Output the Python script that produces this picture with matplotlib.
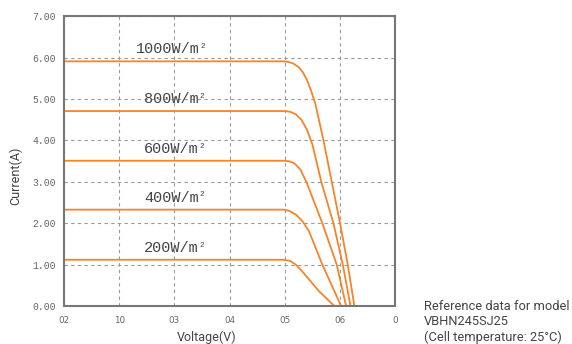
import matplotlib
matplotlib.use('Agg')
import matplotlib.pyplot as plt

# I-V curves (voltage V, current A)
irradiance_labels = ['1000W/m', '800W/m', '600W/m', '400W/m', '200W/m']

v_1000 = [0, 39.5, 40.5, 41.5, 42.5, 43.3, 44.0, 44.7, 45.5, 47.0, 48.5, 50.0, 51.4, 52.6]
i_1000 = [5.91, 5.91, 5.90, 5.86, 5.77, 5.64, 5.46, 5.22, 4.90, 4.00, 3.00, 2.00, 1.00, 0.00]

v_800 = [0, 40.0, 41.0, 42.0, 43.0, 44.0, 45.0, 46.6, 48.8, 50.5, 51.9]
i_800 = [4.71, 4.71, 4.69, 4.63, 4.50, 4.26, 3.90, 3.00, 2.00, 1.00, 0.00]

v_600 = [0, 40.0, 41.0, 41.8, 42.8, 43.9, 46.8, 49.4, 51.1]
i_600 = [3.51, 3.51, 3.49, 3.44, 3.30, 3.00, 2.00, 1.00, 0.00]

v_400 = [0, 39.8, 40.8, 42.0, 43.2, 44.4, 46.8, 50.2]
i_400 = [2.33, 2.33, 2.30, 2.21, 2.05, 1.80, 1.00, 0.00]

v_200 = [0, 39.8, 41.0, 42.0, 43.2, 46.2, 49.0]
i_200 = [1.12, 1.12, 1.09, 1.00, 0.83, 0.36, 0.00]

x_ticks = [0, 10, 20, 30, 40, 50, 60]
x_tick_labels = ['02', '10', '03', '04', '05', '06', '0']
y_ticks = [0, 1, 2, 3, 4, 5, 6, 7]
y_tick_labels = ['0.00', '1.00', '2.00', '3.00', '4.00', '5.00', '6.00', '7.00']

label_x = [13.1, 14.5, 14.5, 14.5, 14.5]
label_y = [6.10, 4.90, 3.70, 2.52, 1.31]

curves = [(v_1000, i_1000), (v_800, i_800), (v_600, i_600), (v_400, i_400), (v_200, i_200)]

fig = plt.figure(figsize=(5.72, 3.44), dpi=100)
ax = fig.add_axes([0.112, 0.11, 0.579, 0.843])

line_color = '#f5842a'
for v, i in curves:
    ax.plot(v, i, color=line_color, linewidth=1.3, solid_joinstyle='round')

for txt, x, y in zip(irradiance_labels, label_x, label_y):
    t = ax.text(x, y, txt, family='Liberation Mono', fontsize=11, color='#444444',
                ha='left', va='baseline')
    # small raised "2" after W/m
    ax.annotate('2', xy=(1.0, 0.95), xycoords=t, xytext=(0.5, 0), textcoords='offset points',
                family='Liberation Mono', fontsize=5.5, color='#444444', ha='left', va='top')

ax.set_xlim(0, 60)
ax.set_ylim(0, 7)
ax.set_xticks(x_ticks)
ax.set_xticklabels(x_tick_labels, family='DejaVu Sans', fontsize=6.3, color='#666666')
ax.set_yticks(y_ticks)
ax.set_yticklabels(y_tick_labels, family='Liberation Mono', fontsize=7, color='#666666')
ax.tick_params(length=0)
ax.tick_params(axis='y', pad=6)
ax.tick_params(axis='x', pad=7)

ax.grid(True, color='#9a9a9a', linestyle=(0, (3, 3)), linewidth=0.8)
for s in ax.spines.values():
    s.set_color('#777777')
    s.set_linewidth(1.5)

ax.set_xlabel('Voltage(V)', family='Roboto', fontsize=9, color='#444444')
ax.xaxis.set_label_coords(0.43, -0.085)
ax.set_ylabel('Current(A)', family='Roboto', fontsize=9, color='#444444')
ax.yaxis.set_label_coords(-0.127, 0.45)

fig.text(424 / 572, 1 - 322 / 344, 'Reference data for model\nVBHN245SJ25\n(Cell temperature: 25°C)',
         family='Roboto', fontsize=9.3, color='#444444', ha='left', va='center',
         linespacing=1.2)

fig.savefig('out.png', dpi=100)
